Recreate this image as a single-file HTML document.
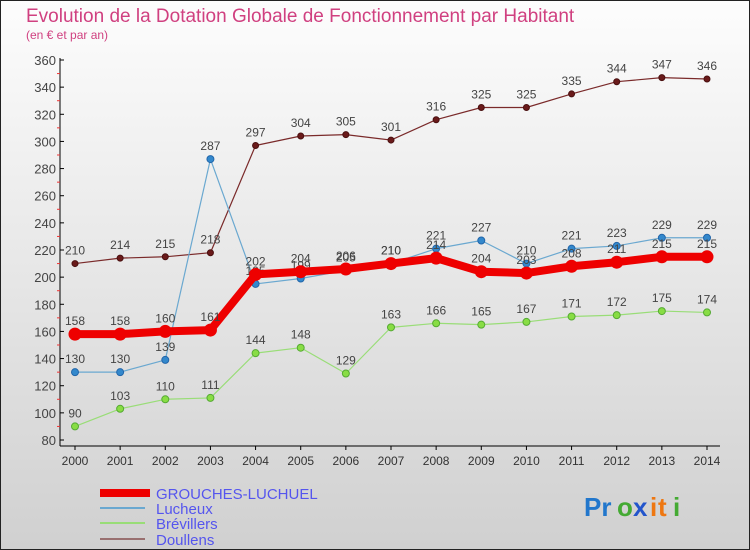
<!DOCTYPE html>
<html><head><meta charset="utf-8"><style>
body{margin:0;width:750px;height:550px;overflow:hidden;font-family:"Liberation Sans",sans-serif}
#c{position:absolute;left:0;top:0}
</style></head><body>
<svg id="c" width="750" height="550">
<defs>
<linearGradient id="bg" x1="0" y1="0" x2="0" y2="1"><stop offset="0" stop-color="#fdfdfd"/><stop offset="1" stop-color="#d0d0d0"/></linearGradient>
</defs>
<rect x="0" y="0" width="750" height="550" fill="url(#bg)"/>
<rect x="0.5" y="0.5" width="749" height="549" fill="none" stroke="#222"/>
<text x="26" y="22" font-size="19" fill="#d04080">Evolution de la Dotation Globale de Fonctionnement par Habitant</text>
<text x="26" y="39" font-size="12" fill="#d04080">(en € et par an)</text>
<g id="axes"></g>
<g id="series"></g>
<g id="legend">
<rect x="100" y="489" width="50" height="8" fill="#ee0000"/>
<text x="156" y="499" font-size="15" fill="#5555ee">GROUCHES-LUCHUEL</text>
<rect x="100" y="507" width="45" height="2" fill="#6aa8d0"/>
<text x="156" y="514" font-size="15" fill="#5555ee">Lucheux</text>
<rect x="100" y="522" width="45" height="2" fill="#99dd77"/>
<text x="156" y="529" font-size="15" fill="#5555ee">Brévillers</text>
<rect x="100" y="538" width="45" height="2" fill="#997070"/>
<text x="156" y="545" font-size="15" fill="#5555ee">Doullens</text>
</g>
<g font-size="26" font-weight="bold">
<text x="584" y="516" fill="#2277cc">Pr</text><text x="617" y="516" fill="#44aa33">o</text><text x="633" y="516" fill="#2255cc">x</text><text x="650" y="516" fill="#ee7711">i</text><text x="658" y="516" fill="#ee7711">t</text><text x="673" y="516" fill="#44aa33">i</text>
</g>
</svg>
<script>
const years=[2000,2001,2002,2003,2004,2005,2006,2007,2008,2009,2010,2011,2012,2013,2014];
const yTicks=[80,100,120,140,160,180,200,220,240,260,280,300,320,340,360];
const grouches=[158,158,160,161,202,204,206,210,214,204,203,208,211,215,215];
const lucheux=[130,130,139,287,195,199,205,210,221,227,210,221,223,229,229];
const brevillers=[90,103,110,111,144,148,129,163,166,165,167,171,172,175,174];
const doullens=[210,214,215,218,297,304,305,301,316,325,325,335,344,347,346];
const NS="http://www.w3.org/2000/svg";
const X=i=>75+i*(632/14);
const Y=v=>440-(v-80)*(380/280);
function mk(t,a,p){const e=document.createElementNS(NS,t);for(const k in a)e.setAttribute(k,a[k]);p.appendChild(e);return e;}
const ax=document.getElementById('axes');
const yl=mk('line',{x1:60,y1:58,x2:60,y2:446,stroke:'#000'},ax);


const xl=mk('line',{x1:60,y1:446,x2:720,y2:446,stroke:'#000'},ax);


yTicks.forEach(v=>{
  mk('line',{x1:60,y1:Y(v),x2:64,y2:Y(v),stroke:'#000'},ax);
  if(v<360) mk('line',{x1:57,y1:Y(v+10),x2:60,y2:Y(v+10),stroke:'#e33'},ax);
  const t=mk('text',{x:56,y:Y(v)+5,'font-size':13,fill:'#444','text-anchor':'end'},ax);
  t.textContent=v;
  
  
});
years.forEach((y,i)=>{
  mk('line',{x1:X(i),y1:446,x2:X(i),y2:450,stroke:'#000'},ax);
  const t=mk('text',{x:X(i),y:465,'font-size':12,fill:'#333','text-anchor':'middle'},ax);
  t.textContent=y;
  
  
});
const sg=document.getElementById('series');
function series(data,name,color,w,r,dot,fill){
  const g=mk('g',{},sg);
  
  
  const l=mk('polyline',{points:data.map((v,i)=>X(i)+','+Y(v)).join(' '),fill:'none',stroke:color,'stroke-width':w,'stroke-linejoin':'round'},g);
  
  
  data.forEach((v,i)=>{
    const c=mk('circle',{cx:X(i),cy:Y(v),r:r,fill:fill,stroke:dot,'stroke-width':1},g);
    
    
    const t=mk('text',{x:X(i),y:Y(v)-9,'font-size':12,fill:'#444','text-anchor':'middle'},g);
    t.textContent=v;
    
    
  });
}
series(doullens,'doullens','#7a2a2a',1.2,3,'#4a1010','#6a1a1a');
series(brevillers,'brevillers','#99dd77',1.2,3.5,'#55aa33','#88dd44');
series(lucheux,'lucheux','#6aa8d0',1.2,3.5,'#2266aa','#3388cc');
series(grouches,'grouches','#ee0000',8,6,'#ee0000','#ee0000');
</script>
</body></html>
